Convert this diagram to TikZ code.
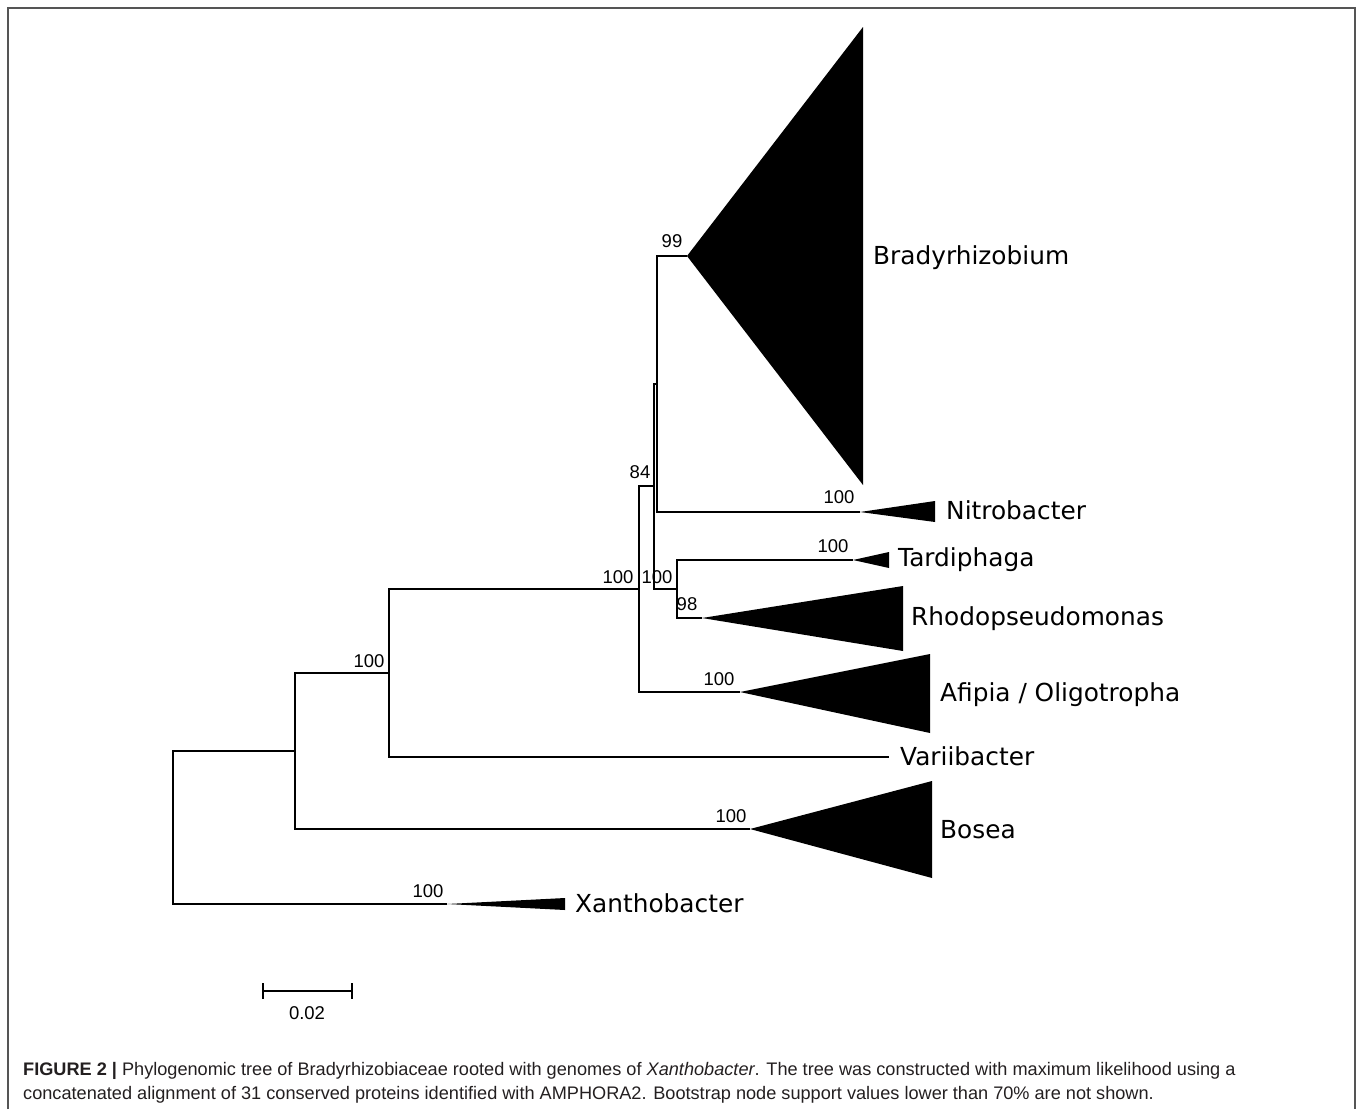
\documentclass[tikz,border=0pt]{standalone}
\usepackage{fontspec}
\setmainfont{Liberation Sans}
\newfontfamily\taxonfont{DejaVu Sans}
\usepackage{tikz}
\definecolor{captiongray}{HTML}{231F20}
\definecolor{framegray}{HTML}{555555}

\begin{document}
\begin{tikzpicture}[x=1pt,y=-1pt,
  branch/.style={line width=1.2pt},
  clade/.style={fill=black},
  boot/.style={anchor=base,inner sep=0pt,font=\fontsize{18.5}{18.5}\selectfont},
  taxon/.style={anchor=base west,inner sep=0pt,font=\taxonfont\fontsize{24.8}{26}\selectfont},
  caption/.style={anchor=base west,inner sep=0pt,text=captiongray,font=\fontsize{18.15}{20}\selectfont}]

\useasboundingbox (0,0) rectangle (1357,1109);
\draw[framegray,line width=1.5pt] (8,1109) -- (8,8) -- (1355,8) -- (1355,1109);

% inner nodes
\coordinate (root) at (173,827);
\coordinate (nA) at (295,751);
\coordinate (nB) at (389,673);
\coordinate (nC) at (639,589);
\coordinate (nD) at (654,486);
\coordinate (nE) at (657,384);
\coordinate (nF) at (677,589);

% tips
\coordinate (brady) at (687,256);
\coordinate (nitro) at (860,512);
\coordinate (tardi) at (853,560);
\coordinate (rhodo) at (702,618);
\coordinate (afipia) at (740,692);
\coordinate (vari) at (889,757);
\coordinate (bosea) at (750,829);
\coordinate (xantho) at (447,904);

\draw[branch] (root) |- (nA);
\draw[branch] (root) |- (xantho);
\draw[branch] (nA) |- (nB);
\draw[branch] (nA) |- (bosea);
\draw[branch] (nB) |- (nC);
\draw[branch] (nB) |- (vari);
\draw[branch] (nC) |- (nD);
\draw[branch] (nC) |- (afipia);
\draw[branch] (nD) |- (nE);
\draw[branch] (nD) |- (nF);
\draw[branch] (nE) |- (brady);
\draw[branch] (nE) |- (nitro);
\draw[branch] (nF) |- (tardi);
\draw[branch] (nF) |- (rhodo);

% collapsed clades
\fill[clade] (brady) -- (863,27) -- (863,485) -- cycle;
\fill[clade] (nitro) -- (935,501) -- (935,522) -- cycle;
\fill[clade] (tardi) -- (889,552) -- (889,568) -- cycle;
\fill[clade] (rhodo) -- (903,586) -- (903,651) -- cycle;
\fill[clade] (afipia) -- (930,654) -- (930,733) -- cycle;
\fill[clade] (bosea) -- (932,781) -- (932,878) -- cycle;
\fill[clade] (xantho) -- (565,898) -- (565,910) -- cycle;

% bootstrap values
\node[boot] (b99) at (672,247) {99};
\node[boot] (b84) at (640,478) {84};
\node[boot] (bC) at (618,583) {100};
\node[boot] (bF) at (657,583) {100};
\node[boot] (b98) at (687,610) {98};
\node[boot] (bnitro) at (839,503) {100};
\node[boot] (btardi) at (833,552) {100};
\node[boot] (bafipia) at (719,685) {100};
\node[boot] (bB) at (369,667) {100};
\node[boot] (bbosea) at (731,822) {100};
\node[boot] (bxantho) at (428,897) {100};

% taxa
\node[taxon] (lbrady) at (873,264) {Bradyrhizobium};
\node[taxon] (lnitro) at (946,519) {Nitrobacter};
\node[taxon] (ltardi) at (898,566) {Tardiphaga};
\node[taxon] (lrhodo) at (911,625) {Rhodopseudomonas};
\node[taxon] (lafipia) at (940,701) {Afipia / Oligotropha};
\node[taxon] (lvari) at (900,765) {Variibacter};
\node[taxon] (lbosea) at (940,838) {Bosea};
\node[taxon] (lxantho) at (575,912) {Xanthobacter};

% scale bar
\coordinate (sbl) at (263,991);
\coordinate (sbr) at (352,991);
\draw[line width=1.2pt] (sbl) -- (sbr);
\draw[line width=1.2pt] (sbl) ++(0,-8) -- ++(0,16);
\draw[line width=1.2pt] (sbr) ++(0,-8) -- ++(0,16);
\node[boot] (sblabel) at (307,1019) {0.02};

% caption
\node[caption] (cap1) at (23,1075) {\textbf{FIGURE 2 |} Phylogenomic tree of Bradyrhizobiaceae rooted with genomes of \textit{Xanthobacter}. The tree was constructed with maximum likelihood using a};
\node[caption] (cap2) at (23,1099) {concatenated alignment of 31 conserved proteins identified with AMPHORA2. Bootstrap node support values lower than 70\% are not shown.};

\end{tikzpicture}
\end{document}
